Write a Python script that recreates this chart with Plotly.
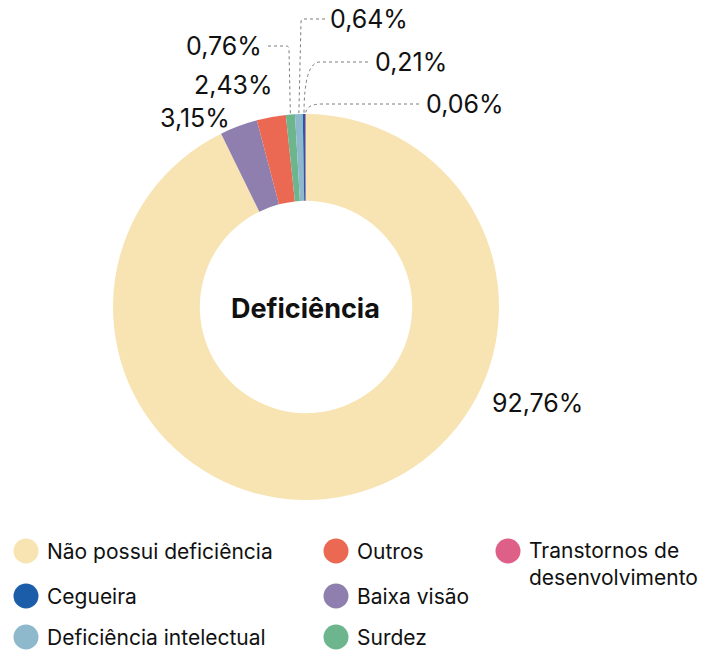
import math
import plotly.graph_objects as go

# Slices, clockwise from 12 o'clock
categories = ["Não possui deficiência", "Baixa visão", "Outros", "Surdez",
              "Deficiência intelectual", "Cegueira", "Transtornos de desenvolvimento"]
values = [92.76, 3.15, 2.43, 0.76, 0.64, 0.21, 0.06]
colors = ["#F8E4B3", "#8E7FAF", "#EB6953", "#6DB68D", "#8EB8CB", "#1B5DA8", "#DE6089"]

# Legend arranged in three columns
legend_columns = [
    ["Não possui deficiência", "Cegueira", "Deficiência intelectual"],
    ["Outros", "Baixa visão", "Surdez"],
    ["Transtornos de<br>desenvolvimento"],
]

W, H = 702, 651
CX, CY, R = 306, 307, 193
HOLE = 0.55
FONT = "Inter, Lato, sans-serif"


def px(x):
    return x / W


def py(y):
    return 1 - y / H


def fmt(v):
    return f"{v:.2f}".replace(".", ",") + "%"


# Outer-edge point at the middle of each slice (clockwise from top)
total = sum(values)
edge = []
cum = 0.0
for v in values:
    mid = (cum + v / 2) / total * 2 * math.pi
    edge.append((CX + R * math.sin(mid), CY - R * math.cos(mid)))
    cum += v

fig = go.Figure(go.Pie(
    labels=categories, values=values, sort=False, direction="clockwise",
    rotation=0, hole=HOLE, textinfo="none", hoverinfo="label+percent",
    marker=dict(colors=colors, line=dict(width=0)), showlegend=False,
    domain=dict(x=[px(CX - R), px(CX + R)], y=[py(CY + R), py(CY - R)]),
))

annotations = []
shapes = []
LEADER = dict(color="#7d7d7d", width=1, dash="dot")


def label(text, x, y, xanchor="center"):
    annotations.append(dict(text=text, x=px(x), y=py(y), xref="paper", yref="paper",
                            xanchor=xanchor, yanchor="middle", showarrow=False,
                            font=dict(family=FONT, size=25, color="#111111")))


def leader(start, corner_x, end, sign):
    # horizontal run, rounded corner, then straight down to the slice edge
    y0 = start[1]
    d = "M {} {} L {} {} Q {} {} {} {} L {} {}".format(
        px(start[0]), py(y0), px(corner_x + 3 * sign), py(y0),
        px(corner_x), py(y0), px(corner_x), py(y0 + 3),
        px(end[0]), py(end[1]))
    shapes.append(dict(type="path", path=d, xref="paper", yref="paper", line=LEADER))


def leader_curve(start, corner_x, end):
    y0 = start[1]
    d = "M {} {} L {} {} Q {} {} {} {}".format(
        px(start[0]), py(y0), px(corner_x), py(y0),
        px(end[0]), py(y0), px(end[0]), py(end[1]))
    shapes.append(dict(type="path", path=d, xref="paper", yref="paper", line=LEADER))


# Large share
label(fmt(values[0]), 537, 403)
# Baixa visão and Outros sit just outside their slices
label(fmt(values[1]), 195, 118)
label(fmt(values[2]), 233, 85)
# Thin slices with dotted leaders
label(fmt(values[3]), 264, 46, "right")
leader((268, 46), 289, edge[3], -1)
label(fmt(values[4]), 328, 19, "left")
leader((325, 19), 301, edge[4], 1)
label(fmt(values[5]), 373, 62, "left")
leader_curve((368, 62), 320, edge[5])
label(fmt(values[6]), 424, 104, "left")
leader_curve((419, 104), 322, edge[6])

# Centre title
annotations.append(dict(text="<b>Deficiência</b>", x=px(CX - 1), y=py(CY + 1),
                        xref="paper", yref="paper", showarrow=False,
                        xanchor="center", yanchor="middle",
                        font=dict(family=FONT, size=27, color="#111111")))

# Legend
col_x = [26, 336, 508]
row_y = [551, 596, 637]
color_of = dict(zip(categories, colors))
for ci, col in enumerate(legend_columns):
    for ri, name in enumerate(col):
        key = name.replace("<br>", " ")
        cx, cy = col_x[ci], row_y[ri]
        shapes.append(dict(type="circle", xref="paper", yref="paper",
                           x0=px(cx - 12.5), x1=px(cx + 12.5),
                           y0=py(cy + 12.5), y1=py(cy - 12.5),
                           fillcolor=color_of[key], line=dict(width=0)))
        ty = cy + 13 if "<br>" in name else cy
        annotations.append(dict(text=name, x=px(cx + 20), y=py(ty),
                                xref="paper", yref="paper", showarrow=False,
                                xanchor="left", yanchor="middle", align="left",
                                borderpad=0,
                                font=dict(family=FONT, size=21, color="#111111")))

fig.update_layout(width=W, height=H, margin=dict(l=0, r=0, t=0, b=0),
                  paper_bgcolor="white", plot_bgcolor="white",
                  annotations=annotations, shapes=shapes)

fig.write_html("out.html")
